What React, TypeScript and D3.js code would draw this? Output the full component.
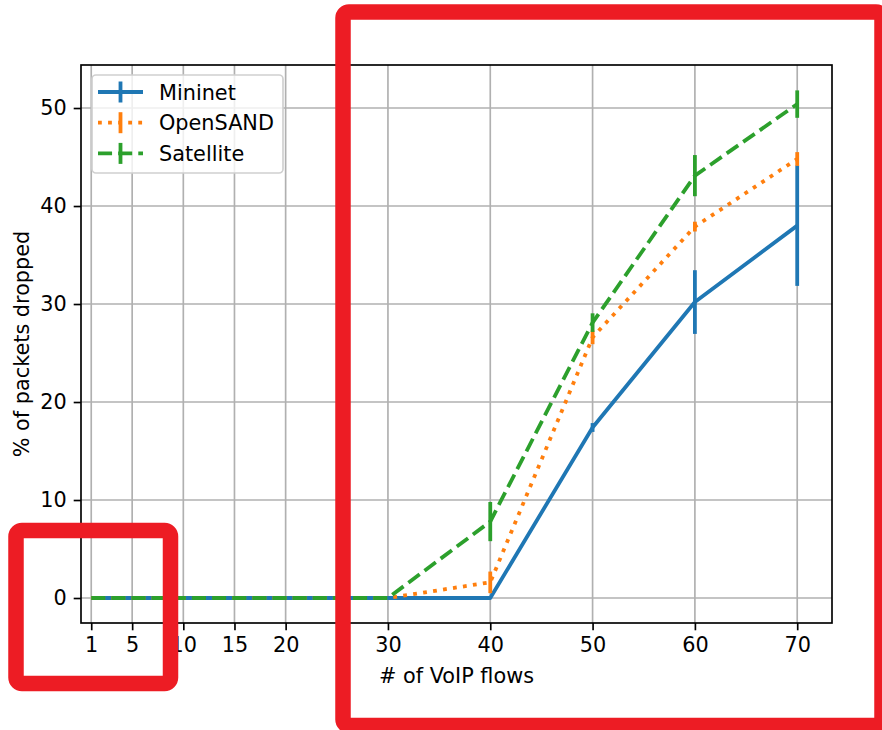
import React, { useRef, useEffect } from "react";
import { select, scaleLinear, line, axisBottom, axisLeft } from "d3";

// data
const flows = [1, 5, 10, 15, 20, 30, 40, 50, 60, 70];
const xTicks = [1, 5, 10, 15, 20, 30, 40, 50, 60, 70];
const yTicks = [0, 10, 20, 30, 40, 50];

const mininet = [0, 0, 0, 0, 0, 0, 0, 17.4, 30.2, 38.0];
const mininetErr = [0, 0, 0, 0, 0, 0, 0, 0.45, 3.25, 6.15];
const opensand = [0, 0, 0, 0, 0, 0, 1.6, 26.6, 37.9, 44.8];
const opensandErr = [0, 0, 0, 0, 0, 0, 1.1, 0.7, 0.5, 0.7];
const satellite = [0, 0, 0, 0, 0, 0, 7.8, 28.1, 43.1, 50.4];
const satelliteErr = [0, 0, 0, 0, 0, 0, 2.0, 0.95, 2.1, 1.4];

const LW = 3.8;
const series = [
  { name: "Mininet", values: mininet, err: mininetErr, color: "#1f77b4", dash: null },
  { name: "OpenSAND", values: opensand, err: opensandErr, color: "#ff7f0e", dash: `${LW} ${LW * 1.65}` },
  { name: "Satellite", values: satellite, err: satelliteErr, color: "#2ca02c", dash: `${LW * 3.7} ${LW * 1.6}` },
];

const W = 882, H = 730;
const plot = { left: 81, top: 65, right: 832, bottom: 623 };
const FONT = "DejaVu Sans";

function Chart() {
  const svgRef = useRef<SVGSVGElement>(null);

  useEffect(() => {
    const svg = select(svgRef.current);
    svg.selectAll("*").remove();

    const x = scaleLinear().domain([0, 73.4]).range([plot.left, plot.right]);
    const y = scaleLinear().domain([-2.55, 54.39]).range([plot.bottom, plot.top]);

    // grid
    const grid = svg.append("g");
    grid.selectAll(".gx").data(xTicks).join("line")
      .attr("x1", d => x(d)).attr("x2", d => x(d))
      .attr("y1", plot.top).attr("y2", plot.bottom)
      .attr("stroke", "#b0b0b0").attr("stroke-width", 1.67);
    grid.selectAll(".gy").data(yTicks).join("line")
      .attr("y1", d => y(d)).attr("y2", d => y(d))
      .attr("x1", plot.left).attr("x2", plot.right)
      .attr("stroke", "#b0b0b0").attr("stroke-width", 1.67);

    // series
    const lineGen = line<number>().x((d, i) => x(flows[i])).y(d => y(d));
    series.forEach(s => {
      const g = svg.append("g");
      g.append("path")
        .attr("d", lineGen(s.values))
        .attr("fill", "none")
        .attr("stroke", s.color)
        .attr("stroke-width", LW)
        .attr("stroke-dasharray", s.dash)
        .attr("stroke-linejoin", "round");
      g.selectAll("line").data(s.values.map((v, i) => ({ v, e: s.err[i], f: flows[i] })).filter(d => d.e > 0))
        .join("line")
        .attr("x1", d => x(d.f)).attr("x2", d => x(d.f))
        .attr("y1", d => y(d.v - d.e)).attr("y2", d => y(d.v + d.e))
        .attr("stroke", s.color).attr("stroke-width", LW);
    });

    // axes
    const xAxis = axisBottom(x).tickValues(xTicks).tickSize(7.3).tickPadding(7).tickFormat(d => String(d));
    const gx = svg.append("g").attr("transform", `translate(0,${plot.bottom})`).call(xAxis);
    const yAxis = axisLeft(y).tickValues(yTicks).tickSize(7.3).tickPadding(7).tickFormat(d => String(d));
    const gy = svg.append("g").attr("transform", `translate(${plot.left},0)`).call(yAxis);
    [gx, gy].forEach(g => {
      g.select(".domain").remove();
      g.selectAll(".tick line").attr("stroke", "#000").attr("stroke-width", 1.67);
      g.selectAll(".tick text").attr("font-family", FONT).attr("font-size", 20.8).attr("fill", "#000");
    });

    // frame
    svg.append("rect")
      .attr("x", plot.left).attr("y", plot.top)
      .attr("width", plot.right - plot.left).attr("height", plot.bottom - plot.top)
      .attr("fill", "none").attr("stroke", "#000").attr("stroke-width", 1.67);

    // labels
    svg.append("text")
      .attr("x", (plot.left + plot.right) / 2).attr("y", 683)
      .attr("text-anchor", "middle").attr("font-family", FONT).attr("font-size", 20.8)
      .text("# of VoIP flows");
    svg.append("text")
      .attr("transform", `translate(29,${(plot.top + plot.bottom) / 2}) rotate(-90)`)
      .attr("text-anchor", "middle").attr("font-family", FONT).attr("font-size", 20.8)
      .text("% of packets dropped");

    // legend
    const lg = svg.append("g");
    lg.append("rect")
      .attr("x", 92).attr("y", 75).attr("width", 191).attr("height", 98).attr("rx", 4)
      .attr("fill", "#fff").attr("fill-opacity", 0.8)
      .attr("stroke", "#d0d0d0").attr("stroke-width", 1.67);
    series.forEach((s, i) => {
      const cy = 92 + i * 30.7;
      lg.append("line")
        .attr("x1", 98).attr("x2", 143).attr("y1", cy).attr("y2", cy)
        .attr("stroke", s.color).attr("stroke-width", LW).attr("stroke-dasharray", s.dash);
      lg.append("line")
        .attr("x1", 120.5).attr("x2", 120.5).attr("y1", cy - 10.5).attr("y2", cy + 10.5)
        .attr("stroke", s.color).attr("stroke-width", LW);
      lg.append("text")
        .attr("x", 159).attr("y", cy + 7.5)
        .attr("font-family", FONT).attr("font-size", 20.8)
        .text(s.name);
    });

    // red highlight boxes over the figure
    const boxes = [
      { x0: 16, y0: 530.5, x1: 170.5, y1: 683.5 },
      { x0: 343, y0: 12, x1: 882, y1: 725.5 },
    ];
    svg.append("g").selectAll("rect").data(boxes).join("rect")
      .attr("x", d => d.x0).attr("y", d => d.y0)
      .attr("width", d => d.x1 - d.x0).attr("height", d => d.y1 - d.y0)
      .attr("rx", 6)
      .attr("fill", "none").attr("stroke", "#ed1c24").attr("stroke-width", 15.5);
  }, []);

  return (
    <svg ref={svgRef} width={W} height={H}
      style={{ position: "absolute", left: 0, top: 0, background: "#fff" }} />
  );
}

export default function App() {
  return <Chart />;
}
